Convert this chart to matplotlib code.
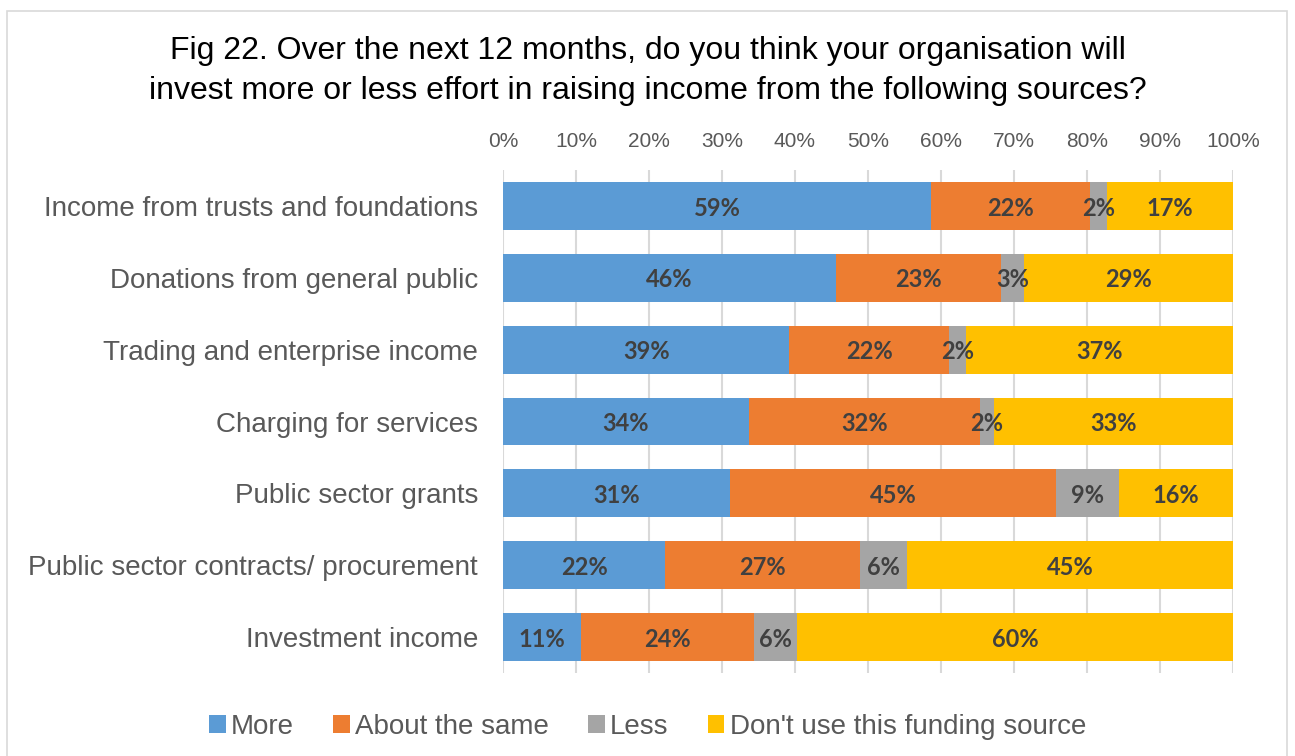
import matplotlib.pyplot as plt
from matplotlib.patches import Rectangle, Patch
import numpy as np

categories = [
    "Income from trusts and foundations",
    "Donations from general public",
    "Trading and enterprise income",
    "Charging for services",
    "Public sector grants",
    "Public sector contracts/ procurement",
    "Investment income",
]
series_names = ["More", "About the same", "Less", "Don't use this funding source"]
more = [58.6, 45.6, 39.2, 33.7, 31.1, 22.2, 10.7]
same = [21.8, 22.6, 21.9, 31.6, 44.7, 26.7, 23.7]
less = [2.3, 3.2, 2.3, 2.0, 8.6, 6.4, 5.9]
dont_use = [17.3, 28.6, 36.6, 32.7, 15.6, 44.7, 59.7]
colors = ["#5B9BD5", "#ED7D31", "#A5A5A5", "#FFC000"]

plt.rcParams['font.family'] = ['Liberation Sans', 'DejaVu Sans']

fig = plt.figure(figsize=(12.95, 7.56), dpi=100)
ax = fig.add_axes([503/1295, 83/756, 730/1295, 503/756])

y = np.arange(len(categories))
left = np.zeros(len(categories))
for name, vals, c in zip(series_names, [more, same, less, dont_use], colors):
    vals = np.array(vals)
    ax.barh(y, vals, left=left, height=0.667, color=c, label=name, zorder=3)
    for yi, l, v in zip(y, left, vals):
        ax.text(l + v/2, yi + 0.03, f"{v:.0f}%", ha='center', va='center',
                fontsize=17, fontweight='bold', color='#404040',
                family=['Lato', 'DejaVu Sans'], zorder=4)
    left += vals

ax.set_xlim(0, 100)
ax.set_ylim(6.5, -0.5)
ax.set_xticks(np.arange(0, 101, 10))
ax.set_xticklabels([f"{t}%" for t in range(0, 101, 10)])
ax.xaxis.tick_top()
ax.tick_params(axis='x', length=0, pad=14, labelsize=15, labelcolor='#595959')
ax.set_yticks(y)
ax.set_yticklabels(categories)
ax.tick_params(axis='y', length=0, pad=18, labelsize=20, labelcolor='#595959')
ax.grid(axis='x', color='#D9D9D9', linewidth=1.5, zorder=0)
for s in ax.spines.values():
    s.set_visible(False)

fig.text(0.5, 1 - 71/756,
         "Fig 22. Over the next 12 months, do you think your organisation will\n"
         "invest more or less effort in raising income from the following sources?",
         ha='center', va='center', fontsize=23, color='black', linespacing=1.4)

handles = [Patch(facecolor=c, label=n) for n, c in zip(series_names, colors)]
fig.legend(handles=handles, loc='center', bbox_to_anchor=(0.5, 1 - 727/756), ncol=4,
           frameon=False, fontsize=20, handlelength=0.6, handleheight=0.6,
           handletextpad=0.2, columnspacing=1.4, labelcolor='#595959')

fig.patches.append(Rectangle((7/1295, -0.05), 1280/1295, 1.05 - 11/756,
                             transform=fig.transFigure, fill=False,
                             edgecolor='#D9D9D9', linewidth=1.2))

fig.savefig("out.png", dpi=100)
